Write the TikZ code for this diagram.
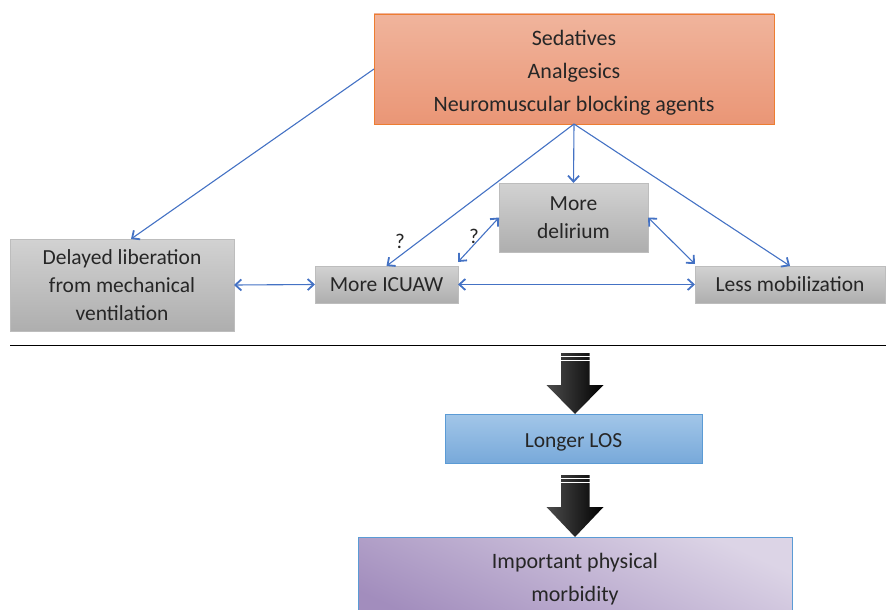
\documentclass[tikz,border=0pt]{standalone}
\usepackage{fontspec}
\setmainfont{Carlito}
\usetikzlibrary{arrows.meta,calc}
\definecolor{txt}{HTML}{262626}
\definecolor{orbord}{HTML}{ED7D31}
\definecolor{ortop}{HTML}{F0B49C}
\definecolor{orbot}{HTML}{EA9676}
\definecolor{grbord}{HTML}{BDBDBD}
\definecolor{grtop}{HTML}{D2D2D2}
\definecolor{grbot}{HTML}{AEAEAE}
\definecolor{bluebord}{HTML}{5B9BD5}
\definecolor{bltop}{HTML}{A2C6E8}
\definecolor{blbot}{HTML}{78A9DA}
\definecolor{pudark}{HTML}{A28DBD}
\definecolor{pulight}{HTML}{DCD4E6}
\definecolor{linkblue}{HTML}{4472C4}
\begin{document}
\begin{tikzpicture}[x=1pt,y=-1pt,
  >={Straight Barb[length=6pt,width=11pt,line width=1.8pt]},
  basebox/.style={align=center, inner sep=0pt, outer sep=0pt, text=txt, line width=0.9pt},
  graybox/.style={basebox, draw=grbord, top color=grtop, bottom color=grbot, font=\fontsize{21.5}{28}\selectfont},
  boxtext/.style={align=center, inner sep=0pt, text=txt, font=\fontsize{22}{33}\selectfont},
  conn/.style={draw=linkblue, line width=1.1pt, ->},
  biconn/.style={draw=linkblue, line width=1.1pt, <->},
  qmark/.style={font=\fontsize{21}{21}\selectfont, text=txt, inner sep=0pt},
  blockarrow/.style={left color=black!70, right color=black, shading angle=90}
]
\useasboundingbox (0,0) rectangle (886,610);

% nodes
\node[basebox, draw=orbord, top color=ortop, bottom color=orbot,
      minimum width=400pt, minimum height=110pt,
      label={[boxtext, yshift=-4pt]center:{Sedatives\\Analgesics\\Neuromuscular blocking agents}}]
      (drugs) at (574,69) {};
\node[graybox, minimum width=224pt, minimum height=92pt] (delayed) at (122,285)
      {Delayed liberation\\from mechanical\\ventilation};
\node[graybox, minimum width=143pt, minimum height=37pt] (icuaw) at (386.5,284.5)
      {More ICUAW};
\node[graybox, minimum width=149pt, minimum height=69pt] (delirium) at (573.5,217.5)
      {More\\delirium};
\node[graybox, minimum width=190pt, minimum height=37pt] (mobil) at (790,284.5)
      {Less mobilization};
\node[basebox, draw=bluebord, top color=bltop, bottom color=blbot,
      minimum width=257pt, minimum height=49pt,
      label={[boxtext, font=\fontsize{21.5}{28}\selectfont, yshift=-3.5pt]center:{Longer LOS}}]
      (los) at (573.5,438.5) {};
\node[basebox, draw=bluebord, top color=pulight, bottom color=pudark, shading angle=-25,
      minimum width=434pt, minimum height=90pt,
      label={[boxtext, yshift=2.5pt]center:{Important physical\\morbidity}}]
      (morb) at (575,582) {};

% connectors
\draw[conn] (drugs.west) -- ([xshift=9pt]delayed.north);
\draw[conn] (drugs.south) -- (icuaw.north);
\draw[conn] (drugs.south) -- (delirium.north);
\draw[conn] (drugs.south) -- (mobil.north);
\draw[biconn] ([yshift=4pt]icuaw.north east) -- (delirium.west);
\draw[biconn] (delirium.east) -- ([yshift=2pt]mobil.north west);
\draw[biconn] (delayed.east) -- (icuaw.west);
\draw[biconn] (icuaw.east) -- (mobil.west);

\node[qmark] (q1) at (400,241) {?};
\node[qmark] (q2) at (474,236) {?};

% separator
\draw[line width=0.9pt, black] (10,345) -- (886,345);

% block arrows
\foreach \t/\h/\e in {353/385/414, 475/507/537}{
  \shade[blockarrow] (561,\t) -- (589.5,\t) -- (589.5,\h) -- (603.5,\h) -- (575,\e)
        -- (546.5,\h) -- (561,\h) -- cycle;
  \draw[white, line width=0.8pt] (561,\t+3.5) -- (589.5,\t+3.5);
  \draw[white, line width=0.8pt] (561,\t+7) -- (589.5,\t+7);
}
\end{tikzpicture}
\end{document}
